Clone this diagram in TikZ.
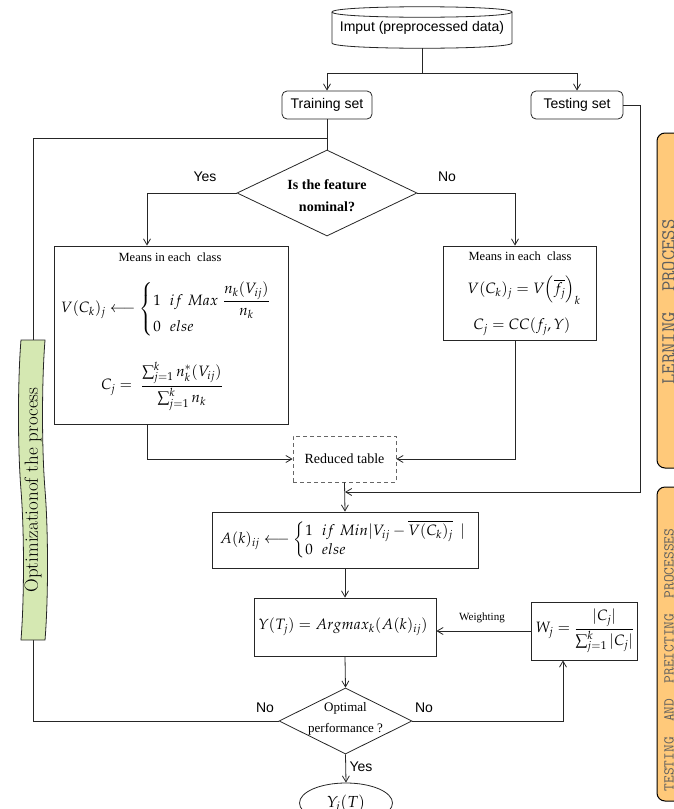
\documentclass[tikz,border=0pt]{standalone}
\usepackage{amsmath}
\usepackage{mathpazo}
\usepackage{fontspec}
\setmainfont{Latin Modern Roman}
\newfontfamily\arialf{Liberation Sans}
\newfontfamily\timesf{Liberation Serif}
\usetikzlibrary{shapes.geometric,shapes.symbols,arrows.meta}
\definecolor{sideorange}{RGB}{255,201,122}
\definecolor{tapegreen}{RGB}{213,232,178}
\definecolor{sidetext}{RGB}{95,95,95}
\tikzset{
  ln/.style={line width=0.8pt, draw=black!85},
  arr/.style={ln, -{Straight Barb[length=6pt,width=7pt]}},
  sans/.style={font=\arialf\fontsize{14}{16}\selectfont},
  rbx/.style={draw, ln, rounded corners=5pt, minimum height=28, inner sep=0, sans},
  mbox/.style={draw, ln, rectangle, inner sep=0},
  mth/.style={font=\fontsize{15}{18}\selectfont, inner sep=0},
  small/.style={font=\timesf\fontsize{12.5}{14}\selectfont, inner sep=0},
  sidebox/.style={draw, line width=1pt, fill=sideorange, rounded corners=8pt, inner sep=0},
  sidelbl/.style={rotate=90, anchor=north, inner sep=0, text=sidetext, font=\ttfamily\fontsize{20}{22}\selectfont},
}
\begin{document}
\begin{tikzpicture}[x=1pt,y=-1pt]
\clip (0,0) rectangle (674,809);

% side boxes
\node[sidebox, minimum width=45, minimum height=335] (side1) at (679.5,300.5) {};
\node[sidelbl] (side1t) at (662,302) {LERNING~~PROCESS};
\node[sidebox, minimum width=45, minimum height=314] (side2) at (679.5,644) {};
\node[sidelbl, font=\ttfamily\fontsize{15}{18}\selectfont] (side2t) at (664,660) {TESTING~~AND~~PREICTING~~PROCESSES};

% input cylinder
\node[sans, minimum width=180, minimum height=41, inner sep=0] (inp) at (422,27.5) {Imput (preprocessed data)};
\draw[ln] (332,12) .. controls (332,5) and (512,5) .. (512,12) .. controls (512,19) and (332,19) .. (332,12);
\draw[ln] (332,12) -- (332,43) .. controls (332,50) and (512,50) .. (512,43) -- (512,12);

\node[rbx, minimum width=90] (train) at (327,105) {Training set};
\node[rbx, minimum width=92] (test) at (577,105) {Testing set};

% decision 1
\node[draw, ln, diamond, minimum width=180, minimum height=86, inner sep=0] (dia1) at (327,193) {};
\node[font=\timesf\bfseries\fontsize{14}{17}\selectfont, align=center, inner sep=0] (dia1t) at (327,196) {Is the feature\\[5pt]nominal?};
\node[sans] (yes1) at (205,177) {Yes};
\node[sans] (no1) at (447,177) {No};

% left box
\node[mbox, minimum width=234, minimum height=178] (lbox) at (171,335) {};
\node[small] (lmeans) at (170,257) {Means in each\ \ class};
\node[mth] (lv) at (166,309) {$V(C_k)_j \longleftarrow \left\{\begin{array}{@{}l@{}} 1\ \ if\ Max\ \dfrac{n_k(V_{ij})}{n_k}\\[8pt] 0\ \ else\end{array}\right.$};
\node[mth] (lc) at (162,386) {$C_j =\ \dfrac{\sum_{j=1}^{k} n_k^{*}(V_{ij})}{\sum_{j=1}^{k} n_k}$};

% right box
\node[mbox, minimum width=153, minimum height=94] (rbox) at (519.5,293) {};
\node[small] (rmeans) at (520,256) {Means in each\ \ class};
\node[mth] (rv) at (524,290) {$V(C_k)_j = V\Bigl(\overline{f_j}\Bigr)_{k}$};
\node[mth] (rc) at (522,327) {$C_j = CC(f_j, Y)$};

% reduced table
\node[draw=black!60, line width=0.8pt, dash pattern=on 4pt off 3pt, minimum width=103, minimum height=46, inner sep=0, font=\timesf\fontsize{14}{16}\selectfont] (red) at (344.5,459) {Reduced table};

% A box
\node[mbox, minimum width=266, minimum height=56] (abox) at (345,540) {};
\node[mth] (af) at (343,540) {$A(k)_{ij} \longleftarrow \left\{\begin{array}{@{}l@{}} 1\ \ if\ Min|V_{ij} - \overline{V(C_k)_j}\ \,|\\ 0\ \ else\end{array}\right.$};

% Y box
\node[mbox, minimum width=182, minimum height=58] (ybox) at (345,627) {};
\node[mth] (yf) at (343,627) {$Y(T_j) = Argmax_k(A(k)_{ij})$};

% W box
\node[mbox, minimum width=106, minimum height=58] (wbox) at (584,631) {};
\node[mth] (wf) at (585,631) {$W_j = \dfrac{|C_j|}{\sum_{j=1}^{k}|C_j|}$};
\node[font=\timesf\fontsize{11}{13}\selectfont, inner sep=0] (wlbl) at (482,618) {Weighting};

% decision 2
\node[draw, ln, diamond, minimum width=133, minimum height=66, inner sep=0] (opt) at (345.5,721) {};
\node[font=\timesf\fontsize{13}{15}\selectfont, align=center, inner sep=0] (optt) at (345.5,719) {Optimal\\[6pt]performance ?};
\node[sans] (no2) at (265,708) {No};
\node[sans] (no3) at (424,708) {No};
\node[sans] (yes2) at (361,767) {Yes};

% output
\node[draw, ln, ellipse, minimum width=93, minimum height=40, inner sep=0, font=\fontsize{16}{18}\selectfont] (yout) at (346,803) {$Y_i(T)$};

% connectors
\coordinate (split) at (422,73);
\draw[ln] (inp.south) -- (split);
\draw[arr] (split) -| (train.north);
\draw[arr] (split) -| (test.north);
\draw[ln] (train.south) -- (dia1.north);
\coordinate (xl) at (147,0);
\coordinate (xr) at (515,0);
\coordinate (xw) at (563,0);
\draw[arr] (dia1.west) -| (xl |- lbox.north);
\draw[arr] (dia1.east) -| (xr |- rbox.north);
\draw[arr] (xl |- lbox.south) |- (red.west);
\draw[arr] (xr |- rbox.south) |- (red.east);
\draw[arr] (red.south) -- (abox.north);
\coordinate (tcorner) at (640,492);
\coordinate (tjoin) at (345,492);
\draw[arr] (test.east) -| (tcorner) -- (tjoin);
\draw[arr] (abox.south) -- (ybox.north);
\draw[arr] (ybox.south) -- (opt.north);
\draw[arr] (opt.south) -- (yout.north);
\draw[arr] (wbox.west) -- (ybox.east |- wbox.west);
\draw[arr] (opt.east) -| (xw |- wbox.south);
\coordinate (looptop) at (33,138);
\coordinate (loopend) at (327,138);
\draw[ln] (opt.west) -| (looptop) -- (loopend);

% optimization label
\node[tape, draw, ln, fill=tapegreen, rotate=90, minimum width=300, minimum height=22, inner sep=1pt, tape bend height=5pt, font=\fontsize{19}{21}\selectfont] (optz) at (33,490) {Optimizationof the process};
\end{tikzpicture}
\end{document}
